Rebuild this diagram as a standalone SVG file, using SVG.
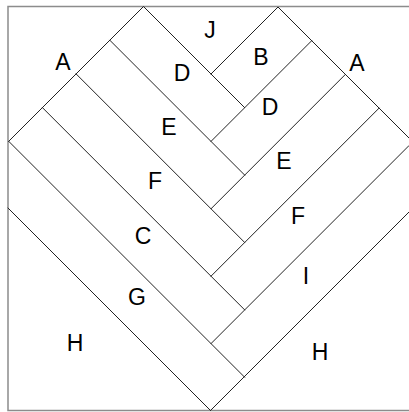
<svg xmlns="http://www.w3.org/2000/svg" width="409" height="412" viewBox="0 0 409 412">
<style>
.frame{fill:#fff;stroke:#8c8c8c;stroke-width:1.5}
.seam{fill:none;stroke:#222;stroke-width:1;stroke-linecap:round}
.lbl{font-family:"Liberation Sans",Arial,sans-serif;font-size:23px;fill:#000;text-anchor:middle}
</style>
<rect width="409" height="412" fill="#fff"/>
<rect id="frame" class="frame" x="8" y="6.5" width="410" height="404"/>
<g id="seams" class="seam">
<polyline points="8.7,141.3 143.5,6.5 244.7,107.7"/>
<line x1="109.8" y1="40.2" x2="244.7" y2="175.1"/>
<line x1="76.1" y1="73.9" x2="244.7" y2="242.5"/>
<line x1="42.4" y1="107.6" x2="244.7" y2="309.9"/>
<line x1="8.7" y1="141.3" x2="244.7" y2="377.3"/>
<line x1="8" y1="208" x2="210.5" y2="410.5"/>
<polyline points="211,74 278,7 409,138"/>
<line x1="211" y1="141.4" x2="311.7" y2="40.7"/>
<line x1="211" y1="208.8" x2="345.4" y2="74.4"/>
<line x1="211" y1="276.2" x2="379.1" y2="108.1"/>
<line x1="211" y1="343.6" x2="409" y2="145.6"/>
<line x1="210.5" y1="410.5" x2="409" y2="212"/>
</g>
<g id="labels" class="lbl">
<text x="210" y="38">J</text>
<text x="63" y="70">A</text>
<text x="182" y="81">D</text>
<text x="261" y="65">B</text>
<text x="357" y="71">A</text>
<text x="270" y="115">D</text>
<text x="169" y="135">E</text>
<text x="284" y="169">E</text>
<text x="155" y="189">F</text>
<text x="298" y="224">F</text>
<text x="143" y="244">C</text>
<text x="306" y="284">I</text>
<text x="137" y="305">G</text>
<text x="75" y="351">H</text>
<text x="320" y="360">H</text>
</g>
</svg>
